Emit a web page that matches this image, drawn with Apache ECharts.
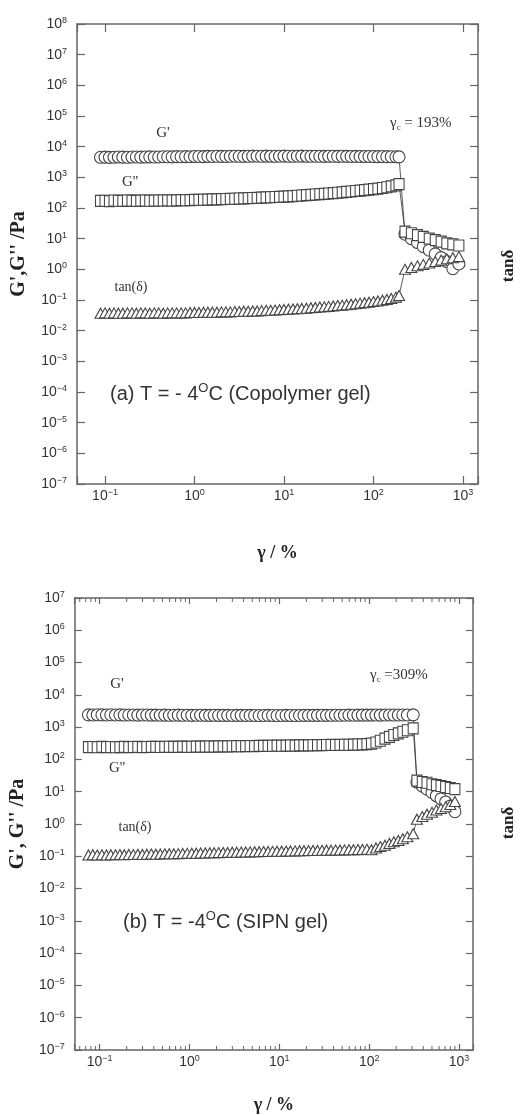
<!DOCTYPE html>
<html><head><meta charset="utf-8">
<script src="https://cdn.jsdelivr.net/npm/echarts@6/dist/echarts.min.js"></script>
<style>html,body{margin:0;padding:0;background:#fff}#c{width:521px;height:1115px}</style>
</head><body><div id="c"></div>
<script>
// ---------- Panel (a): copolymer gel, T = -4 °C ----------
const strainA = [0.089,0.100,0.112,0.126,0.141,0.158,0.178,0.200,0.224,0.251,
  0.282,0.316,0.355,0.398,0.447,0.501,0.562,0.631,0.708,0.794,
  0.891,1.00,1.12,1.26,1.41,1.58,1.78,2.00,2.24,2.51,
  2.82,3.16,3.55,3.98,4.47,5.01,5.62,6.31,7.08,7.94,
  8.91,10.0,11.2,12.6,14.1,15.8,17.8,20.0,22.4,25.1,
  28.2,31.6,35.5,39.8,44.7,50.1,56.2,63.1,70.8,79.4,
  89.1,100,112,126,141,158,178,193,
  225,265,310,360,420,490,570,660,770,900];
const gStorageA = [4500,4550,4480,4520,4600,4560,4500,4580,4620,4550,
  4600,4650,4580,4620,4700,4680,4650,4720,4700,4750,
  4700,4780,4800,4750,4820,4800,4850,4820,4800,4850,
  4880,4850,4820,4860,4900,4880,4850,4900,4870,4850,
  4880,4900,4860,4850,4880,4900,4870,4850,4880,4860,
  4840,4870,4850,4820,4850,4830,4800,4820,4800,4780,
  4800,4770,4750,4760,4730,4700,4680,4650,
  14,10,7.5,5.5,4.2,3.2,2.4,1.8,1.05,1.5];
const gLossA = [170,172,168,175,172,170,176,174,171,173,
  175,172,174,176,175,177,176,178,180,179,
  181,183,184,186,188,190,192,194,196,199,
  201,204,206,209,212,215,218,221,224,228,
  231,235,240,245,250,256,262,268,275,282,
  290,298,306,315,325,335,346,358,370,383,
  397,412,430,450,475,505,545,600,
  17,15,13,11.5,10,9,8,7,6.5,6];
const tanDeltaA = [0.037,0.038,0.037,0.038,0.037,0.037,0.038,0.038,0.037,0.038,
  0.038,0.037,0.038,0.038,0.037,0.038,0.038,0.038,0.038,0.038,
  0.039,0.039,0.039,0.040,0.040,0.040,0.040,0.041,0.041,0.041,
  0.042,0.042,0.043,0.043,0.044,0.044,0.045,0.046,0.046,0.047,
  0.048,0.049,0.050,0.051,0.052,0.053,0.054,0.056,0.057,0.059,
  0.060,0.062,0.064,0.066,0.068,0.070,0.073,0.076,0.079,0.082,
  0.085,0.089,0.093,0.098,0.104,0.112,0.124,0.140,
  1.0,1.15,1.3,1.45,1.6,1.8,2.0,2.2,2.4,2.6];

// ---------- Panel (b): SIPN gel, T = -4 °C ----------
const strainB = [0.075,0.084,0.094,0.106,0.119,0.133,0.150,0.168,0.188,0.211,
  0.237,0.266,0.299,0.335,0.376,0.422,0.473,0.531,0.596,0.668,
  0.750,0.841,0.944,1.06,1.19,1.33,1.50,1.68,1.88,2.11,
  2.37,2.66,2.99,3.35,3.76,4.22,4.73,5.31,5.96,6.68,
  7.50,8.41,9.44,10.6,11.9,13.3,15.0,16.8,18.8,21.1,
  23.7,26.6,29.9,33.5,37.6,42.2,47.3,53.1,59.6,66.8,
  75.0,84.1,94.4,106,119,133,150,168,188,211,
  237,266,309,
  340,390,440,500,560,630,710,800,900];
const gStorageB = [2400,2380,2420,2400,2390,2410,2380,2400,2370,2390,
  2380,2360,2380,2370,2350,2360,2340,2350,2330,2340,
  2350,2330,2340,2320,2330,2340,2320,2310,2330,2320,
  2310,2320,2300,2310,2320,2300,2310,2300,2290,2300,
  2310,2300,2290,2300,2310,2300,2290,2300,2310,2320,
  2310,2320,2330,2320,2330,2340,2330,2340,2350,2340,
  2350,2360,2350,2360,2370,2360,2370,2380,2370,2380,
  2390,2380,2400,
  20,15,12,9.5,7.5,6,4.8,3.6,2.4];
const gLossB = [240,242,238,244,240,243,239,241,244,240,
  242,245,241,243,246,244,242,245,247,244,
  246,248,245,247,250,248,250,252,250,253,
  255,253,256,258,256,259,261,259,262,264,
  262,265,267,265,268,270,268,271,273,272,
  275,277,276,279,281,280,283,285,284,287,
  290,293,297,310,335,380,440,500,570,640,
  720,800,920,
  22,20,19,17,16,15,14,13,12];
const tanDeltaB = [0.110,0.112,0.109,0.111,0.110,0.112,0.111,0.113,0.112,0.114,
  0.113,0.115,0.114,0.116,0.117,0.116,0.118,0.119,0.120,0.119,
  0.121,0.122,0.123,0.124,0.125,0.126,0.127,0.128,0.129,0.130,
  0.131,0.132,0.133,0.134,0.135,0.136,0.137,0.138,0.139,0.140,
  0.141,0.142,0.143,0.144,0.145,0.146,0.147,0.148,0.149,0.150,
  0.151,0.152,0.153,0.154,0.155,0.156,0.157,0.158,0.159,0.160,
  0.161,0.162,0.164,0.160,0.180,0.200,0.220,0.250,0.280,0.310,
  0.350,0.400,0.500,
  1.4,1.7,2.0,2.3,2.7,3.0,3.4,4.0,5.0];

// axis ranges (strain in %, moduli exponent in decades)
const xRangeA = [0.0486, 1472];
const yDecadesA = [-7, 8];
const xRangeB = [0.0528, 1431];
const yDecadesB = [-7, 7];
const minorMultipliers = [2,3,4,5,6,7,8,9];
const minorDecades = [-2,-1,0,1,2,3];

const L = Math.log10;
const pairs = (xs, ys) => xs.map((x, i) => [L(x), L(ys[i])]);

const AX = '#666';
const rich = {
  b: {fontFamily: 'Liberation Sans', fontSize: 14, lineHeight: 16, color: '#333'},
  s: {fontFamily: 'Liberation Sans', fontSize: 9, lineHeight: 10, color: '#333', verticalAlign: 'top'}
};
function decadeLabel(v) {
  const r = Math.round(v);
  if (Math.abs(v - r) > 1e-6) return '';
  return '{b|10}{s|' + (r < 0 ? '\u2212' : '') + Math.abs(r) + '}';
}
const nameStyleX = {fontFamily: 'Liberation Serif', fontWeight: 'bold', fontSize: 18, color: '#222'};
const nameStyleY = {fontFamily: 'Liberation Serif', fontWeight: 'bold', fontSize: 20, color: '#222'};

function xAx(grid, range, pos, showLabel, tickLen, name, gap) {
  return {
    type: 'value', gridIndex: grid, position: pos, min: L(range[0]), max: L(range[1]), splitNumber: 5,
    axisLine: {show: true, onZero: false, lineStyle: {color: AX, width: 1.5}},
    axisTick: {show: true, inside: true, length: tickLen, lineStyle: {color: AX, width: 1.2}},
    axisLabel: {show: showLabel, margin: 4, formatter: decadeLabel, rich: rich},
    splitLine: {show: false},
    name: name, nameLocation: 'middle', nameGap: gap, nameTextStyle: nameStyleX
  };
}
function yAx(grid, dec, pos, showLabel, tickLen, name, gap) {
  return {
    type: 'value', gridIndex: grid, position: pos, min: dec[0], max: dec[1], interval: 1,
    axisLine: {show: true, onZero: false, lineStyle: {color: AX, width: 1.5}},
    axisTick: {show: true, inside: true, length: tickLen, lineStyle: {color: AX, width: 1.2}},
    axisLabel: {show: showLabel, margin: 10, formatter: decadeLabel, rich: rich},
    splitLine: {show: false},
    name: name, nameLocation: 'middle', nameGap: gap, nameRotate: 90, nameTextStyle: nameStyleY
  };
}

function mk(name, xs, ys, symbol, size, xi, yi) {
  return {
    name: name, type: 'line', xAxisIndex: xi, yAxisIndex: yi, data: pairs(xs, ys),
    symbol: symbol, symbolSize: size, showAllSymbol: true,
    lineStyle: {color: '#333', width: 0.8},
    itemStyle: {color: '#fff', borderColor: '#444', borderWidth: 1.1},
    emphasis: {disabled: true}, animation: false
  };
}

const minorB = [];
minorDecades.forEach(d => minorMultipliers.forEach(m => {
  const v = d + L(m);
  if (v > L(xRangeB[0]) && v < L(xRangeB[1])) minorB.push([v, yDecadesB[0]]);
}));

const chart = echarts.init(document.getElementById('c'), null, {renderer: 'canvas'});
const serif = 'Liberation Serif';
const txt = (x, y, text, size) => ({
  type: 'text', x: x, y: y, silent: true,
  style: {text: text, fontFamily: serif, fontSize: size, fill: '#333', align: 'center', verticalAlign: 'middle'}
});
const subRich = {
  g: {fontFamily: serif, fontSize: 15, fill: '#333', lineHeight: 18},
  c: {fontFamily: serif, fontSize: 9, fill: '#333', verticalAlign: 'bottom', lineHeight: 10},
  t: {fontFamily: serif, fontSize: 15, fill: '#333', lineHeight: 18}
};
const capRich = {
  n: {fontFamily: 'Liberation Sans', fontSize: 20, fill: '#333', lineHeight: 25},
  o: {fontFamily: 'Liberation Sans', fontSize: 13, fill: '#333', verticalAlign: 'top', lineHeight: 13}
};

chart.setOption({
  animation: false,
  backgroundColor: '#fff',
  grid: [
    {left: 77, top: 24, width: 401, height: 460},
    {left: 74, top: 598, width: 399, height: 452}
  ],
  xAxis: [
    xAx(0, xRangeA, 'bottom', true, 8, '\u03b3 / %', 60),
    xAx(0, xRangeA, 'top', false, 8, '', 0),
    xAx(1, xRangeB, 'bottom', true, 6, '\u03b3 / %', 46),
    xAx(1, xRangeB, 'top', false, 6, '', 0)
  ],
  yAxis: [
    yAx(0, yDecadesA, 'left', true, 8, "G',G'' /Pa", 48),
    yAx(0, yDecadesA, 'right', false, 8, '', 0),
    yAx(1, yDecadesB, 'left', true, 7, "G', G'' /Pa", 45),
    yAx(1, yDecadesB, 'right', false, 7, '', 0)
  ],
  series: [
    mk("G'", strainA, gStorageA, 'circle', 12, 0, 0),
    mk("G''", strainA, gLossA, 'rect', [10, 11], 0, 0),
    mk('tan(\u03b4)', strainA, tanDeltaA, 'triangle', [11, 10], 0, 0),
    mk("G'", strainB, gStorageB, 'circle', 12, 2, 2),
    mk("G''", strainB, gLossB, 'rect', [10, 11], 2, 2),
    mk('tan(\u03b4)', strainB, tanDeltaB, 'triangle', [11, 10], 2, 2),
    {
      type: 'custom', xAxisIndex: 2, yAxisIndex: 2, silent: true, clip: false, animation: false,
      data: minorB,
      renderItem: function (params, api) {
        const p0 = api.coord([api.value(0), yDecadesB[0]]);
        const p1 = api.coord([api.value(0), yDecadesB[1]]);
        const st = {stroke: AX, lineWidth: 1};
        return {type: 'group', children: [
          {type: 'line', shape: {x1: p0[0], y1: p0[1], x2: p0[0], y2: p0[1] - 4}, style: st},
          {type: 'line', shape: {x1: p1[0], y1: p1[1], x2: p1[0], y2: p1[1] + 4}, style: st}
        ]};
      }
    }
  ],
  graphic: [
    txt(163, 133, "G'", 15),
    txt(130, 182, "G''", 15),
    txt(131, 287, 'tan(\u03b4)', 14),
    {type: 'text', x: 390, y: 123, silent: true,
      style: {text: '{g|\u03b3}{c|c}{t| = 193%}', rich: subRich, align: 'left', verticalAlign: 'middle'}},
    {type: 'text', x: 110, y: 394, silent: true,
      style: {text: '{n|(a) T = - 4}{o|O}{n|C (Copolymer gel)}', rich: capRich, align: 'left', verticalAlign: 'middle'}},
    {type: 'text', x: 509, y: 266, rotation: Math.PI / 2, silent: true,
      style: {text: 'tan\u03b4', fontFamily: serif, fontWeight: 'bold', fontSize: 17, fill: '#222', align: 'center', verticalAlign: 'middle'}},

    txt(117, 684, "G'", 15),
    txt(117, 768, "G''", 15),
    txt(135, 827, 'tan(\u03b4)', 14),
    {type: 'text', x: 370, y: 675, silent: true,
      style: {text: '{g|\u03b3}{c|c}{t| =309%}', rich: subRich, align: 'left', verticalAlign: 'middle'}},
    {type: 'text', x: 123, y: 922, silent: true,
      style: {text: '{n|(b) T = -4}{o|O}{n|C (SIPN gel)}', rich: capRich, align: 'left', verticalAlign: 'middle'}},
    {type: 'text', x: 509, y: 823, rotation: Math.PI / 2, silent: true,
      style: {text: 'tan\u03b4', fontFamily: serif, fontWeight: 'bold', fontSize: 17, fill: '#222', align: 'center', verticalAlign: 'middle'}}
  ]
});
</script>
</body></html>
